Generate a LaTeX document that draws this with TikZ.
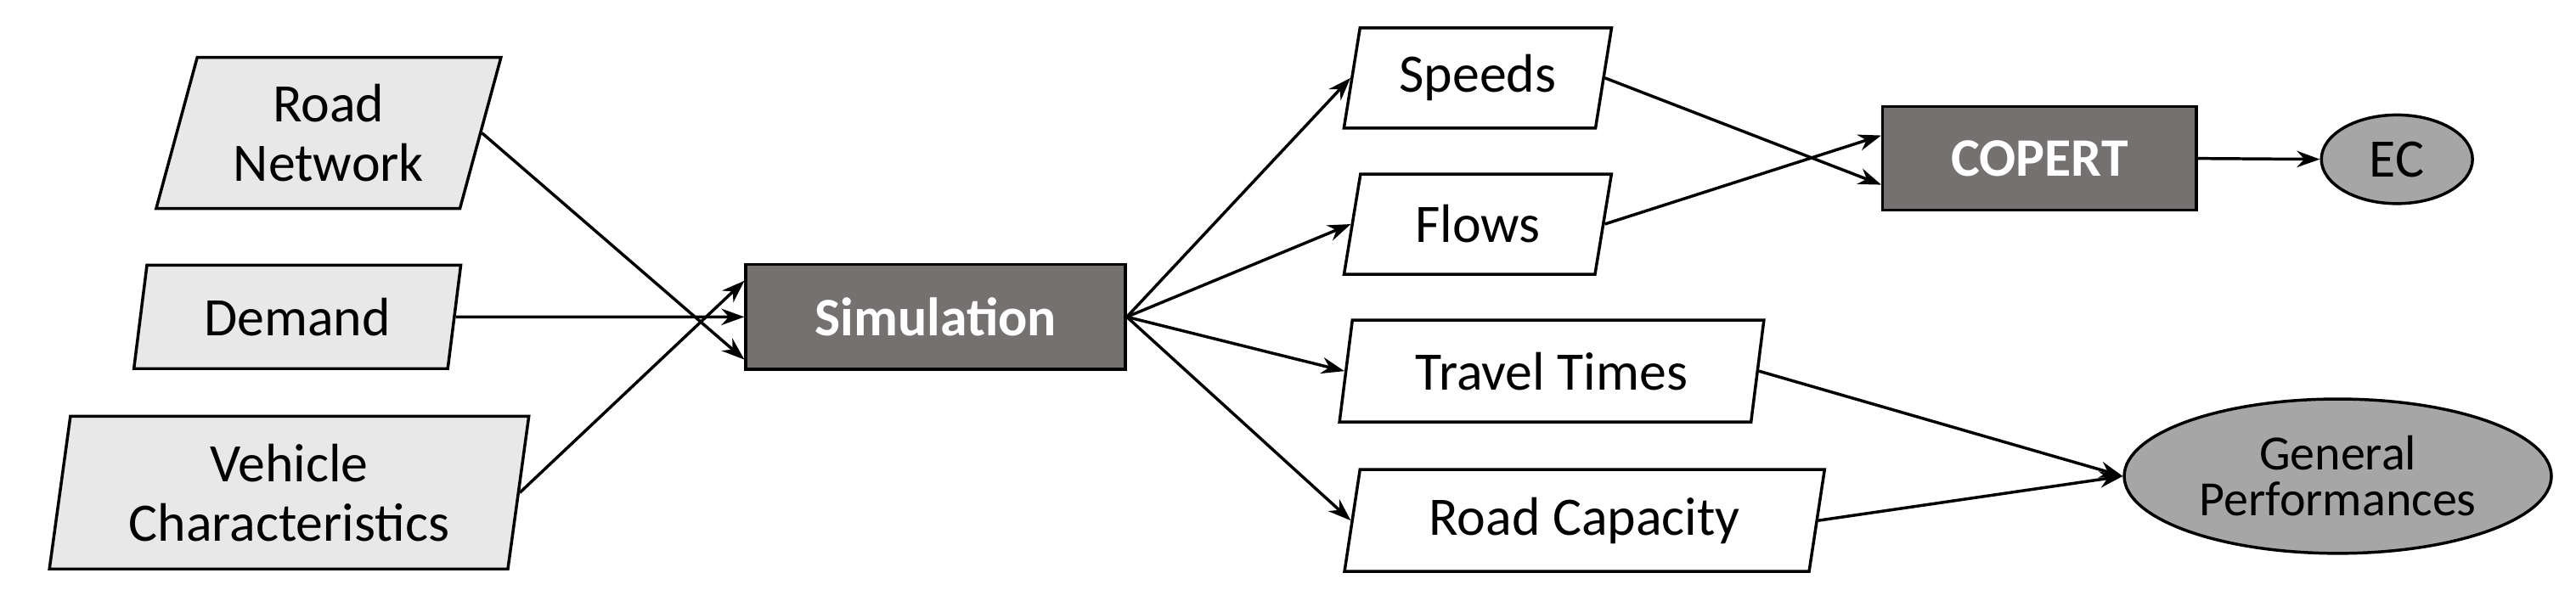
\documentclass[tikz,border=0pt]{standalone}
\usepackage{fontspec}
\setmainfont{Carlito}
\usetikzlibrary{shapes.geometric,arrows.meta}
\begin{document}
\begin{tikzpicture}[x=1pt,y=-1pt,
  every node/.style={font=\fontsize{33}{36}\selectfont, line width=1.8pt, draw=black, inner sep=0pt, align=center},
  para/.style={trapezium, trapezium stretches=true, trapezium left angle=#1, trapezium right angle=180-#1},
  inp/.style={fill=black!9},
  outp/.style={fill=white},
  box/.style={rectangle, fill={rgb,255:red,118;green,113;blue,113}, text=white, font=\fontsize{33}{36}\selectfont\bfseries},
  ell/.style={ellipse, fill={rgb,255:red,166;green,166;blue,166}, inner sep=0pt},
  arr/.style={-{Stealth[length=14pt,width=10pt]}, line width=1.8pt}]
\useasboundingbox (0,0) rectangle (1568,366);
\node[para=73,inp,minimum width=210, minimum height=92] (rn) at (200,81) {Road\\Network};
\node[para=78,inp,minimum width=199, minimum height=63] (dem) at (181,193) {Demand};
\node[para=81,inp,minimum width=292, minimum height=93] (veh) at (176,300) {Vehicle\\Characteristics};
\node[box,minimum width=231, minimum height=64] (sim) at (569.5,193) {Simulation};
\node[para=77,outp,minimum width=163, minimum height=61] (sp) at (899.5,47.5) {Speeds};
\node[para=77,outp,minimum width=163, minimum height=61] (fl) at (899.5,136.5) {Flows};
\node[para=77,outp,minimum width=259, minimum height=62] (tt) at (944.5,226) {Travel Times};
\node[para=77,outp,minimum width=293, minimum height=62] (rc) at (964.5,317) {Road Capacity};
\node[box,minimum width=191, minimum height=63] (cop) at (1241.5,96.5) {COPERT};
\node[ell,minimum width=92, minimum height=54] (ec) at (1459,97) {EC};
\node[ell,minimum width=260, minimum height=94,font=\fontsize{30}{28}\selectfont] (gp) at (1423,290) {General\\Performances};
\draw[arr] (rn.east) -- ([yshift=-26pt]sim.west);
\draw[arr] (dem.east) -- (sim.west);
\draw[arr] (veh.east) -- ([yshift=22pt]sim.west);
\draw[arr] (sim.east) -- (sp.west);
\draw[arr] (sim.east) -- (fl.west);
\draw[arr] (sim.east) -- (tt.west);
\draw[arr] (sim.east) -- (rc.west);
\draw[arr] (sp.east) -- ([yshift=-16pt]cop.west);
\draw[arr] (fl.east) -- ([yshift=14pt]cop.west);
\draw[arr] (cop.east) -- (ec.west);
\draw[arr] (tt.east) -- (gp.west);
\draw[arr] (rc.east) -- (gp.west);
\end{tikzpicture}
\end{document}
